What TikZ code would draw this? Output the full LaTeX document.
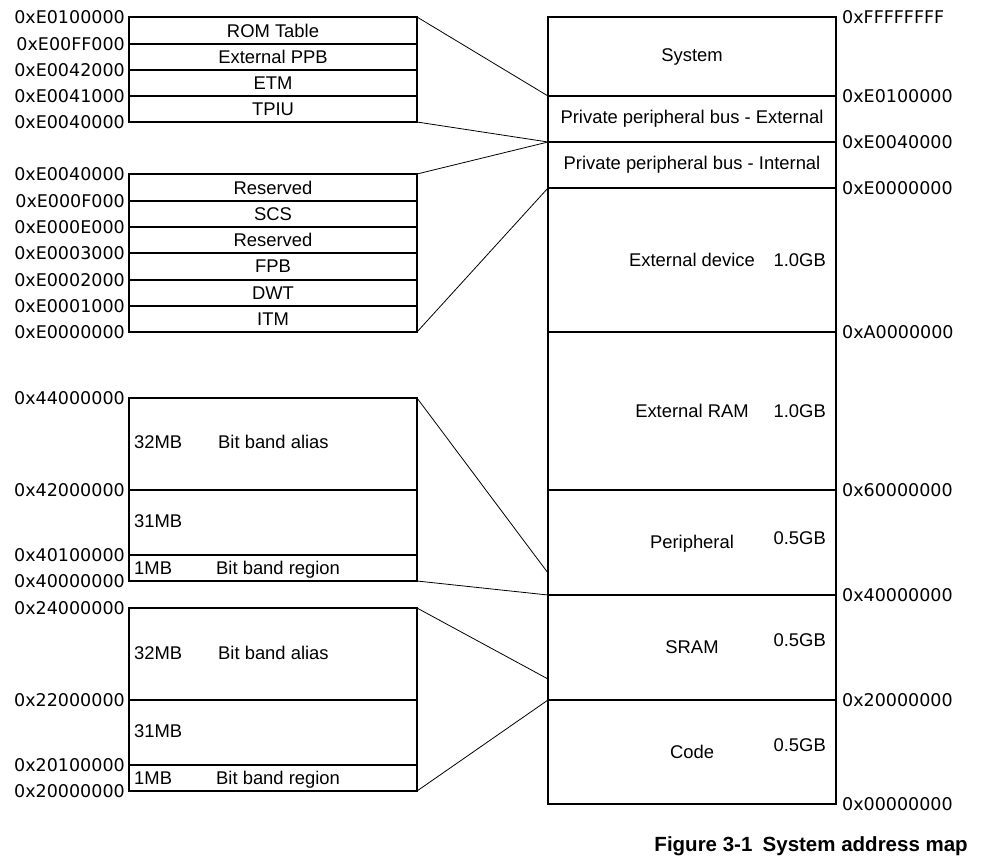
\documentclass[tikz,border=0pt]{standalone}
\usepackage{fontspec}
\setmainfont{Liberation Sans}
\newfontfamily\addrfont{DejaVu Sans}
\begin{document}
\begin{tikzpicture}[x=1pt,y=-1pt,
  rowbox/.style={draw, line width=1.2pt, inner sep=0pt, outer sep=0pt,
    minimum width=288pt, anchor=north west, font=\fontsize{18.4}{20}\selectfont},
  lbl/.style={inner sep=0pt, font=\fontsize{18.4}{20}\selectfont},
  addrL/.style={inner sep=0pt, anchor=east, font=\addrfont\fontsize{17.5}{20}\selectfont},
  addrR/.style={inner sep=0pt, anchor=west, font=\addrfont\fontsize{17.5}{20}\selectfont},
  conn/.style={line width=0.8pt}]
\useasboundingbox (0,0) rectangle (994,868);

% ---- PPB external detail
\node[rowbox, minimum height=27pt] (rom) at (129,17) {ROM Table};
\node[rowbox, minimum height=26pt] (extppb) at (129,44) {External PPB};
\node[rowbox, minimum height=26pt] (etm) at (129,70) {ETM};
\node[rowbox, minimum height=26pt] (tpiu) at (129,96) {TPIU};
\node[addrL] (a1) at (125,17) {0xE0100000};
\node[addrL] (a2) at (125,44) {0xE00FF000};
\node[addrL] (a3) at (125,70) {0xE0042000};
\node[addrL] (a4) at (125,96) {0xE0041000};
\node[addrL] (a5) at (125,122) {0xE0040000};

% ---- PPB internal detail
\node[rowbox, minimum height=27pt] (res1) at (129,174) {Reserved};
\node[rowbox, minimum height=26pt] (scs) at (129,201) {SCS};
\node[rowbox, minimum height=26pt] (res2) at (129,227) {Reserved};
\node[rowbox, minimum height=27pt] (fpb) at (129,253) {FPB};
\node[rowbox, minimum height=26pt] (dwt) at (129,280) {DWT};
\node[rowbox, minimum height=26pt] (itm) at (129,306) {ITM};
\node[addrL] (b1) at (125,174) {0xE0040000};
\node[addrL] (b2) at (125,201) {0xE000F000};
\node[addrL] (b3) at (125,227) {0xE000E000};
\node[addrL] (b4) at (125,253) {0xE0003000};
\node[addrL] (b5) at (125,280) {0xE0002000};
\node[addrL] (b6) at (125,306) {0xE0001000};
\node[addrL] (b7) at (125,332) {0xE0000000};

% ---- Peripheral bit band
\node[rowbox, minimum height=92pt] (alias1) at (129,398) {};
\node[rowbox, minimum height=65pt] (mid1) at (129,490) {};
\node[rowbox, minimum height=26pt] (bbr1) at (129,555) {};
\node[lbl, anchor=base west] (t1a) at (134,448.5) {32MB};
\node[lbl, anchor=base west] (t1b) at (218,448.5) {Bit band alias};
\node[lbl, anchor=base west] (t1c) at (134,527.5) {31MB};
\node[lbl, anchor=base west] (t1d) at (134,574.5) {1MB};
\node[lbl, anchor=base west] (t1e) at (216,574.5) {Bit band region};
\node[addrL] (c1) at (125,398) {0x44000000};
\node[addrL] (c2) at (125,490) {0x42000000};
\node[addrL] (c3) at (125,555) {0x40100000};
\node[addrL] (c4) at (125,581) {0x40000000};

% ---- SRAM bit band
\node[rowbox, minimum height=92pt] (alias2) at (129,608) {};
\node[rowbox, minimum height=65pt] (mid2) at (129,700) {};
\node[rowbox, minimum height=26pt] (bbr2) at (129,765) {};
\node[lbl, anchor=base west] (t2a) at (134,659.5) {32MB};
\node[lbl, anchor=base west] (t2b) at (218,659.5) {Bit band alias};
\node[lbl, anchor=base west] (t2c) at (134,737.5) {31MB};
\node[lbl, anchor=base west] (t2d) at (134,784.5) {1MB};
\node[lbl, anchor=base west] (t2e) at (216,784.5) {Bit band region};
\node[addrL] (d1) at (125,608) {0x24000000};
\node[addrL] (d2) at (125,700) {0x22000000};
\node[addrL] (d3) at (125,765) {0x20100000};
\node[addrL] (d4) at (125,791) {0x20000000};

% ---- System map
\node[rowbox, minimum height=79pt] (system) at (548,17) {System};
\node[rowbox, minimum height=46pt] (ppbext) at (548,96) {Private peripheral bus - External};
\node[rowbox, minimum height=46pt] (ppbint) at (548,142) {Private peripheral bus - Internal};
\node[rowbox, minimum height=144pt] (extdev) at (548,188) {};
\node[rowbox, minimum height=158pt] (extram) at (548,332) {};
\node[rowbox, minimum height=105pt] (periph) at (548,490) {};
\node[rowbox, minimum height=105pt] (sram) at (548,595) {};
\node[rowbox, minimum height=104pt] (code) at (548,700) {};
\node[lbl, anchor=base] (s1) at (692,266.5) {External device};
\node[lbl, anchor=base east] (g1) at (826,266.5) {1.0GB};
\node[lbl, anchor=base] (s2) at (692,417.5) {External RAM};
\node[lbl, anchor=base east] (g2) at (826,417.5) {1.0GB};
\node[lbl, anchor=base] (s3) at (692,548.5) {Peripheral};
\node[lbl, anchor=base east] (g3) at (826,544.5) {0.5GB};
\node[lbl, anchor=base] (s4) at (692,653.5) {SRAM};
\node[lbl, anchor=base east] (g4) at (826,646.5) {0.5GB};
\node[lbl, anchor=base] (s5) at (692,758.5) {Code};
\node[lbl, anchor=base east] (g5) at (826,751.5) {0.5GB};
\node[addrR] (r1) at (842,17) {0xFFFFFFFF};
\node[addrR] (r2) at (842,96) {0xE0100000};
\node[addrR] (r3) at (842,142) {0xE0040000};
\node[addrR] (r4) at (842,188) {0xE0000000};
\node[addrR] (r5) at (842,332) {0xA0000000};
\node[addrR] (r6) at (842,490) {0x60000000};
\node[addrR] (r7) at (842,595) {0x40000000};
\node[addrR] (r8) at (842,700) {0x20000000};
\node[addrR] (r9) at (842,804) {0x00000000};

% ---- connectors
\coordinate (p1) at (548,573);
\coordinate (p2) at (548,679);
\draw[conn] (rom.north east) -- (ppbext.north west);
\draw[conn] (tpiu.south east) -- (ppbint.north west);
\draw[conn] (res1.north east) -- (ppbint.north west);
\draw[conn] (itm.south east) -- (extdev.north west);
\draw[conn] (alias1.north east) -- (p1);
\draw[conn] (bbr1.south east) -- (sram.north west);
\draw[conn] (alias2.north east) -- (p2);
\draw[conn] (bbr2.south east) -- (code.north west);

\node[inner sep=0pt, anchor=east, font=\bfseries\fontsize{20.5}{22}\selectfont] (title) at (968,846) {Figure 3-1\hspace{0.5em}System address map};
\end{tikzpicture}
\end{document}
